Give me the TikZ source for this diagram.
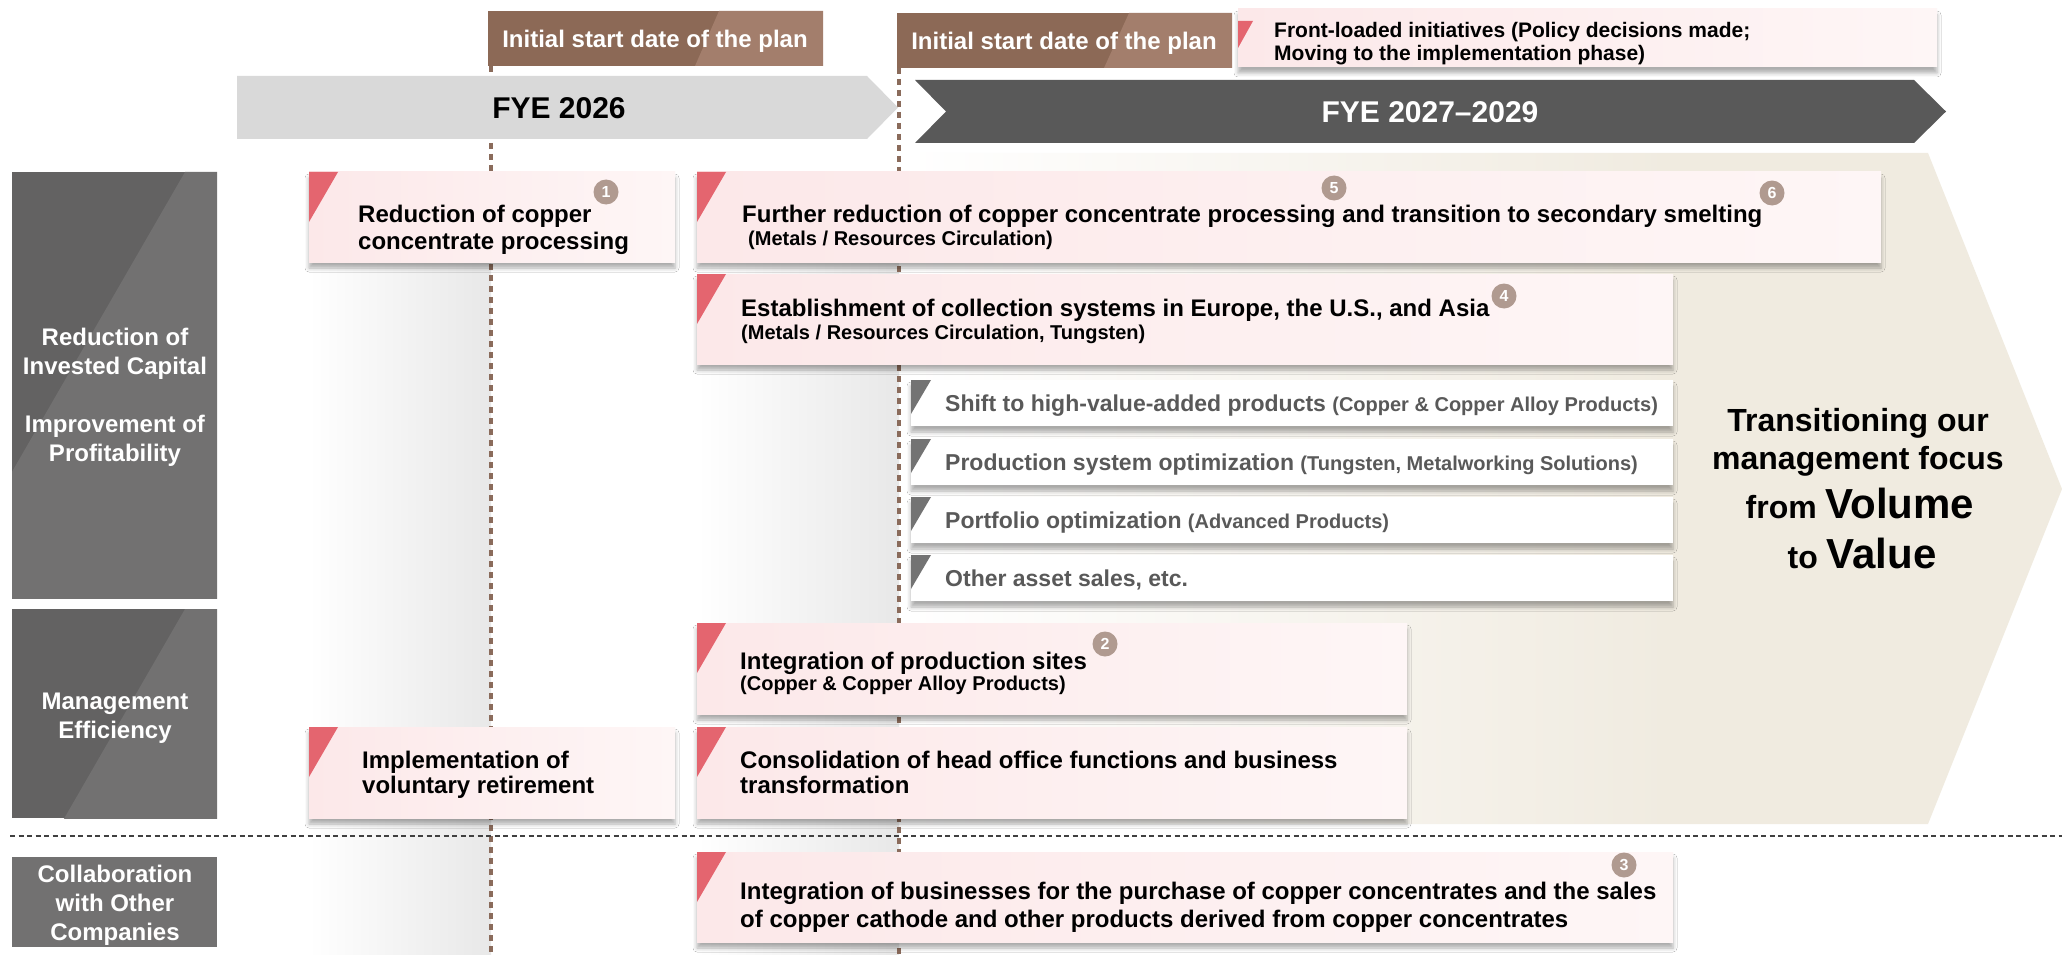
\documentclass[tikz,border=0pt]{standalone}
\usepackage{fontspec}
\setmainfont{Liberation Sans}
\usetikzlibrary{shadows.blur}
\definecolor{brownA}{HTML}{8C6956}
\definecolor{brownB}{HTML}{A37E6C}
\definecolor{arrowL}{HTML}{D9D9D9}
\definecolor{arrowD}{HTML}{595959}
\definecolor{labA}{HTML}{636262}
\definecolor{labB}{HTML}{727171}
\definecolor{pinkL}{HTML}{FCE8E9}
\definecolor{pinkR}{HTML}{FEF6F6}
\definecolor{redT}{HTML}{E4656F}
\definecolor{grayT}{HTML}{737373}
\definecolor{grayTxt}{HTML}{595959}
\definecolor{numC}{HTML}{B09A90}
\definecolor{beigeC}{HTML}{F0EBE0}
\definecolor{dotC}{HTML}{8A6B5B}
\definecolor{bandC}{HTML}{E8E8E8}
\definecolor{dashC}{HTML}{404040}
\pgfdeclarehorizontalshading{beigefade}{100bp}{color(0bp)=(white); color(25bp)=(white); color(58bp)=(beigeC); color(100bp)=(beigeC)}
\begin{document}
\begin{tikzpicture}[x=1pt,y=-1pt,
  softshadow/.style={blur shadow={shadow xshift=0pt,shadow yshift=-6pt,shadow blur radius=4pt,shadow opacity=32}},
  card/.style={anchor=north west,inner sep=0pt,outer sep=0pt,left color=pinkL,right color=pinkR,softshadow,
    path picture={\fill[redT] (path picture bounding box.north west) -- ++(29,0) -- ++(-29,50) -- cycle;}},
  gcard/.style={anchor=north west,inner sep=0pt,outer sep=0pt,fill=white,softshadow,minimum width=762,minimum height=46,
    path picture={\fill[grayT] (path picture bounding box.north west) -- ++(20,0) -- ++(-20,34) -- cycle;}},
  frontbox/.style={anchor=north west,inner sep=0pt,outer sep=0pt,left color=pinkL,right color=pinkR,softshadow,
    path picture={\fill[redT] (path picture bounding box.north west) ++(0,12) -- ++(15,0) -- ++(-15,27) -- cycle;}},
  brownbox/.style={anchor=north west,inner sep=0pt,outer sep=0pt,fill=brownA,minimum width=335,minimum height=55},
  labbox/.style={anchor=north west,inner sep=0pt,outer sep=0pt,minimum width=205},
  labstripe/.style={labbox,fill=labA,
    path picture={\fill[labB] ([xshift=173pt]path picture bounding box.north west) -- ++(800,0) -- ++(0,1000) -- ++(-1377,0) -- cycle;}},
  num/.style={circle,fill=numC,text=white,inner sep=0pt,minimum size=25,font=\bfseries\fontsize{16}{16}\selectfont},
  txt/.style={anchor=base west,inner sep=0pt,font=\bfseries\fontsize{24}{28}\selectfont},
  subtxt/.style={anchor=base west,inner sep=0pt,font=\bfseries\fontsize{20}{24}\selectfont},
  gtxt/.style={anchor=base west,inner sep=0pt,text=grayTxt,font=\bfseries\fontsize{23}{28}\selectfont},
  labtxt/.style={anchor=base,inner sep=0pt,text=white,font=\bfseries\fontsize{24}{28}\selectfont},
  bigtxt/.style={anchor=base,inner sep=0pt,font=\bfseries\fontsize{32}{38}\selectfont},
  dotline/.style={dotC,line width=3.5pt,dash pattern=on 6pt off 5pt},
  sepline/.style={dashC,line width=1.4pt,dash pattern=on 5pt off 3.5pt}
]
\useasboundingbox (0,0) rectangle (2062,955);
\fill[white] (0,0) rectangle (2062,955);

% big beige arrow
\shade[shading=beigefade] (907,153) -- (1928,153) -- (2062,489) -- (1928,824) -- (907,824) -- cycle;

% gray fading bands
\fill[left color=white,right color=bandC] (309,262) rectangle (491,955);
\fill[left color=white,right color=bandC] (697,172) rectangle (899,955);

% dotted start-date lines
\coordinate (d1top) at (491,66);
\coordinate (d1bot) at (491,955);
\coordinate (d2top) at (899,68);
\coordinate (d2bot) at (899,955);
\draw[dotline] (d1top) -- (d1bot);
\draw[dotline] (d2top) -- (d2bot);

% horizontal separator
\coordinate (sepL) at (10,836);
\coordinate (sepR) at (2062,836);
\draw[sepline] (sepL) -- (sepR);

% period arrows
\fill[arrowL] (237,76) -- (867,76) -- (898,107.5) -- (867,139) -- (237,139) -- cycle;
\fill[arrowD] (915,80) -- (1914,80) -- (1946,111.5) -- (1914,143) -- (915,143) -- (946,111.5) -- cycle;
\node[anchor=base,inner sep=0pt,font=\bfseries\fontsize{30}{34}\selectfont] (fye1) at (559,119) {FYE 2026};
\node[anchor=base,inner sep=0pt,text=white,font=\bfseries\fontsize{30}{34}\selectfont] (fye2) at (1430,122.5) {FYE 2027–2029};

% brown boxes
\node[brownbox] (b1) at (488,11) {};
\fill[brownB] (719,11) -- (823,11) -- (823,66) -- (695,66) -- cycle;
\node[anchor=base,inner sep=0pt,text=white,font=\bfseries\fontsize{24}{28}\selectfont] (b1t) at (655,47.5) {Initial start date of the plan};
\node[brownbox] (b2) at (897,13) {};
\fill[brownB] (1129,13) -- (1232,13) -- (1232,68) -- (1104,68) -- cycle;
\node[anchor=base,inner sep=0pt,text=white,font=\bfseries\fontsize{24}{28}\selectfont] (b2t) at (1064,50) {Initial start date of the plan};

% front-loaded legend
\node[frontbox,minimum width=699,minimum height=58] (fl) at (1238,9) {};
\node[anchor=base west,inner sep=0pt,font=\bfseries\fontsize{21}{24}\selectfont] (flt1) at (1274,37.5) {Front-loaded initiatives (Policy decisions made;};
\node[anchor=base west,inner sep=0pt,font=\bfseries\fontsize{21}{24}\selectfont] (flt2) at (1274,60.5) {Moving to the implementation phase)};

% cards
\node[card,minimum width=366,minimum height=90] (c1) at (309,172) {};
\node[card,minimum width=1184,minimum height=90] (c5) at (697,172) {};
\node[card,minimum width=976,minimum height=90] (c4) at (697,274) {};
\node[gcard] (g1) at (911,380) {};
\node[gcard] (g2) at (911,439) {};
\node[gcard] (g3) at (911,497) {};
\node[gcard] (g4) at (911,555) {};
\node[card,minimum width=710,minimum height=91] (c2) at (697,623) {};
\node[card,minimum width=366,minimum height=91] (cv) at (309,727) {};
\node[card,minimum width=710,minimum height=91] (cc) at (697,727) {};
\node[card,minimum width=976,minimum height=90] (c3) at (697,852) {};

% card texts
\node[txt] (c1a) at (358,222) {Reduction of copper};
\node[txt] (c1b) at (358,249) {concentrate processing};
\node[txt] (c5a) at (742,222) {Further reduction of copper concentrate processing and transition to secondary smelting};
\node[subtxt] (c5b) at (748,245) {(Metals / Resources Circulation)};
\node[txt] (c4a) at (741,316) {Establishment of collection systems in Europe, the U.S., and Asia};
\node[subtxt] (c4b) at (741,339) {(Metals / Resources Circulation, Tungsten)};
\node[gtxt] (g1t) at (945,411) {Shift to high-value-added products {\fontsize{20}{24}\selectfont(Copper \& Copper Alloy Products)}};
\node[gtxt] (g2t) at (945,470) {Production system optimization {\fontsize{20}{24}\selectfont(Tungsten, Metalworking Solutions)}};
\node[gtxt] (g3t) at (945,528) {Portfolio optimization {\fontsize{20}{24}\selectfont(Advanced Products)}};
\node[gtxt] (g4t) at (945,586) {Other asset sales, etc.};
\node[txt] (c2a) at (740,669) {Integration of production sites};
\node[subtxt] (c2b) at (740,690) {(Copper \& Copper Alloy Products)};
\node[txt] (cva) at (362,768) {Implementation of};
\node[txt] (cvb) at (362,793) {voluntary retirement};
\node[txt] (cca) at (740,768) {Consolidation of head office functions and business};
\node[txt] (ccb) at (740,793) {transformation};
\node[txt] (c3a) at (740,899) {Integration of businesses for the purchase of copper concentrates and the sales};
\node[txt] (c3b) at (740,927) {of copper cathode and other products derived from copper concentrates};

% number badges
\node[num] (n1) at (606,192) {1};
\node[num] (n5) at (1334,188) {5};
\node[num] (n6) at (1772,193) {6};
\node[num] (n4) at (1504,296) {4};
\node[num] (n2) at (1105,644) {2};
\node[num] (n3) at (1624,865) {3};

% left category labels
\node[labstripe,minimum height=426] (L1) at (12,172) {};
\node[labstripe,minimum height=209] (L2) at (12,609) {};
\node[labbox,fill=labB,minimum height=90] (L3) at (12,857) {};
\node[labtxt] (L1a) at (115,345.5) {Reduction of};
\node[labtxt] (L1b) at (115,374.5) {Invested Capital};
\node[labtxt] (L1c) at (115,432.5) {Improvement of};
\node[labtxt] (L1d) at (115,461.5) {Profitability};
\node[labtxt] (L2a) at (115,709.5) {Management};
\node[labtxt] (L2b) at (115,738.5) {Efficiency};
\node[labtxt] (L3a) at (115,882.5) {Collaboration};
\node[labtxt] (L3b) at (115,911.5) {with Other};
\node[labtxt] (L3c) at (115,940.5) {Companies};

% right message
\node[bigtxt] (m1) at (1858,431) {Transitioning our};
\node[bigtxt] (m2) at (1858,469) {management focus};
\node[bigtxt] (m3) at (1860,518) {from {\fontsize{42}{46}\selectfont Volume}};
\node[bigtxt] (m4) at (1862,568) {to {\fontsize{42}{46}\selectfont Value}};
\end{tikzpicture}
\end{document}
